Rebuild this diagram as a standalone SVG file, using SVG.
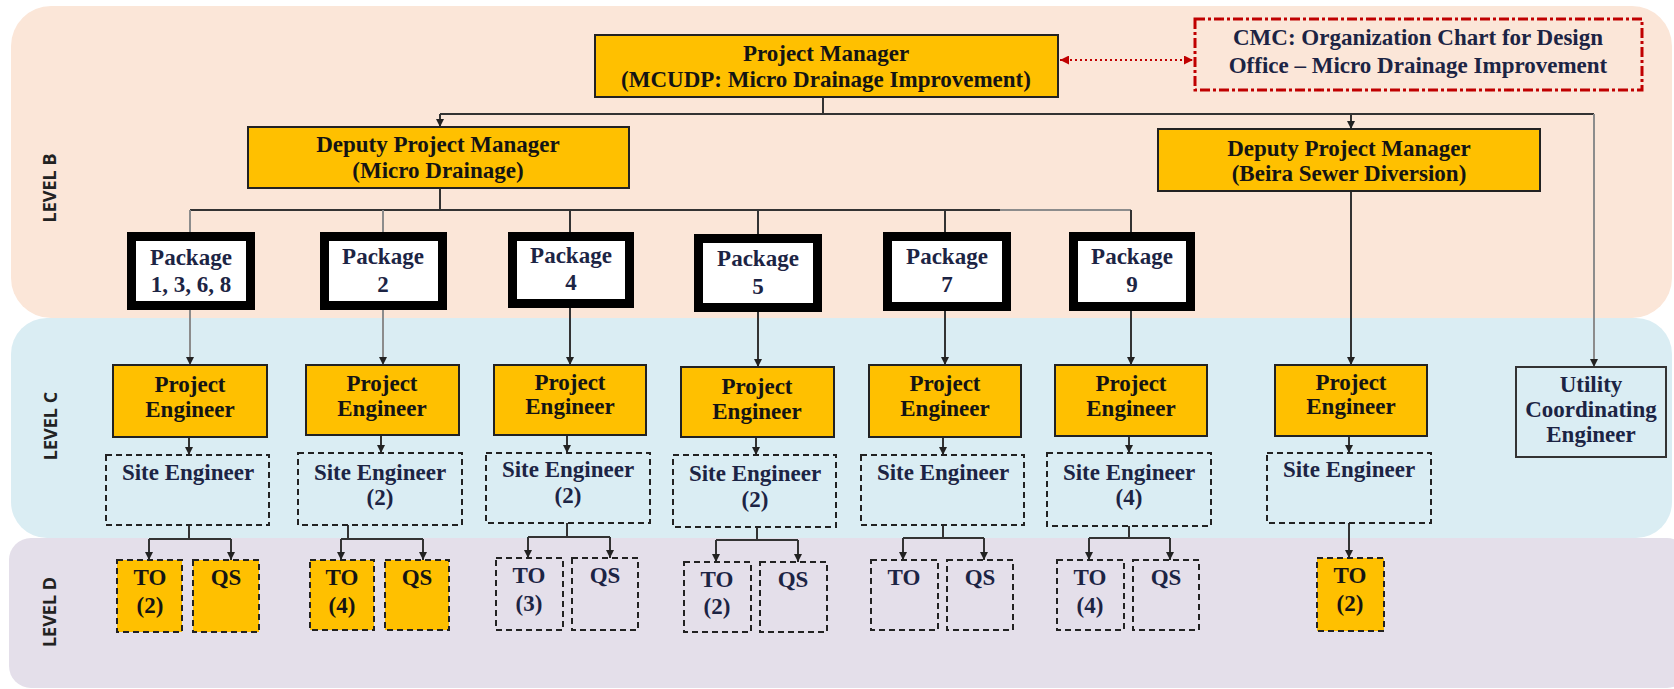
<svg xmlns="http://www.w3.org/2000/svg" width="1674" height="689" viewBox="0 0 1674 689">
<defs>
<style>
.t{font-family:"Liberation Serif","Times New Roman",serif;font-weight:bold;font-size:23px;text-anchor:middle;fill:#141414}
.n{fill:#1c2444}
.lvl{font-family:"Open Sans","Liberation Sans",sans-serif;font-weight:bold;font-size:18px;fill:#222;text-anchor:middle}
.box{fill:#FFC000;stroke:#222;stroke-width:2}
.pkg{fill:#fff;stroke:#000;stroke-width:9}
.dash{fill:none;stroke:#222;stroke-width:2;stroke-dasharray:6 4}
.dasho{fill:#FFC000;stroke:#222;stroke-width:2;stroke-dasharray:6 4}
.c{fill:none;stroke:#333;stroke-width:2}
.g{fill:none;stroke:#8c8c8c;stroke-width:2}
.a{marker-end:url(#ah)}
</style>
<marker id="ah" viewBox="0 0 10 10" refX="10" refY="5" markerWidth="8" markerHeight="8" markerUnits="userSpaceOnUse" orient="auto"><path d="M0,0 L10,5 L0,10 z" fill="#222"/></marker>
<marker id="rh" viewBox="0 0 10 10" refX="10" refY="5" markerWidth="9" markerHeight="9" markerUnits="userSpaceOnUse" orient="auto-start-reverse"><path d="M0,0 L10,5 L0,10 z" fill="#C00000"/></marker>
</defs>

<g id="bands">
<rect x="11" y="6" width="1661" height="312" rx="40" fill="#FBE6D8"/>
<rect x="11" y="318" width="1661" height="220" rx="36" fill="#DAEDF3"/>
<rect x="9" y="538" width="1680" height="150" rx="22" fill="#E4DFEA"/>
<text class="lvl" transform="translate(56,188) rotate(-90)">LEVEL B</text>
<text class="lvl" transform="translate(57,426) rotate(-90)">LEVEL C</text>
<text class="lvl" transform="translate(56,612) rotate(-90)">LEVEL D</text>
</g>

<g id="connectors">
<path class="c" d="M823,97 V114 M440,114 H1594"/>
<path class="c a" d="M440,114 V127"/>
<path class="c a" d="M1351,114 V129"/>
<path class="g a" d="M1594,114 V367"/>
<path class="c" d="M440,188 V210 M190,210 H1000"/>
<path class="g" d="M1000,210 H1131"/>
<path class="g" d="M190,210 V232 M383,210 V232"/>
<path class="c" d="M570,210 V232 M758,210 V234 M945,210 V232 M1131,210 V232"/>
<path class="g a" d="M190,310 V365"/>
<path class="g a" d="M383,310 V365"/>
<path class="c a" d="M570,308 V365"/>
<path class="c a" d="M758,312 V367"/>
<path class="c a" d="M945,311 V365"/>
<path class="c a" d="M1131,311 V365"/>
<path class="c a" d="M1351,191 V365"/>
<path class="c a" d="M189,437 V455"/>
<path class="c a" d="M381,435 V453"/>
<path class="c a" d="M567,435 V453"/>
<path class="c a" d="M756,437 V455"/>
<path class="c a" d="M943,437 V455"/>
<path class="c a" d="M1129,436 V453"/>
<path class="c a" d="M1349,436 V453"/>
<path class="c" d="M189,525 V539 M149,539 H231"/>
<path class="c a" d="M149,539 V560"/><path class="c a" d="M231,539 V560"/>
<path class="c" d="M348,525 V539 M341,539 H423"/>
<path class="c a" d="M341,539 V560"/><path class="c a" d="M423,539 V560"/>
<path class="c" d="M567,523 V537 M528,537 H610"/>
<path class="c a" d="M528,537 V558"/><path class="c a" d="M610,537 V558"/>
<path class="c" d="M757,527 V540 M716,540 H798"/>
<path class="c a" d="M716,540 V562"/><path class="c a" d="M798,540 V562"/>
<path class="c" d="M943,525 V538 M903,538 H984"/>
<path class="c a" d="M903,538 V560"/><path class="c a" d="M984,538 V560"/>
<path class="c" d="M1129,526 V538 M1089,538 H1170"/>
<path class="c a" d="M1089,538 V560"/><path class="c a" d="M1170,538 V560"/>
<path class="c a" d="M1349,523 V558"/>
<path d="M1060,60 H1193" fill="none" stroke="#C00000" stroke-width="2" stroke-dasharray="2 3" marker-start="url(#rh)" marker-end="url(#rh)"/>
</g>

<g id="pm"><rect class="box" x="595" y="35" width="463" height="62"/>
<text class="t" x="826" y="61">Project Manager</text>
<text class="t" x="826" y="87">(MCUDP: Micro Drainage Improvement)</text></g>

<g id="cmc"><rect x="1195" y="19" width="447" height="71" fill="none" stroke="#C00000" stroke-width="3" stroke-dasharray="10 3 3 3"/>
<text class="t n" x="1418" y="45">CMC: Organization Chart for Design</text>
<text class="t n" x="1418" y="73">Office – Micro Drainage Improvement</text></g>

<g id="dpm1"><rect class="box" x="248" y="127" width="381" height="61"/>
<text class="t" x="438" y="152">Deputy Project Manager</text>
<text class="t" x="438" y="178">(Micro Drainage)</text></g>

<g id="dpm2"><rect class="box" x="1158" y="129" width="382" height="62"/>
<text class="t" x="1349" y="156">Deputy Project Manager</text>
<text class="t" x="1349" y="181">(Beira Sewer Diversion)</text></g>

<g id="pkg1"><rect class="pkg" x="131.5" y="236.5" width="119" height="69"/>
<text class="t n" x="191" y="265">Package</text><text class="t n" x="191" y="292">1, 3, 6, 8</text></g>
<g id="pkg2"><rect class="pkg" x="324.5" y="236.5" width="118" height="69"/>
<text class="t n" x="383" y="264">Package</text><text class="t n" x="383" y="292">2</text></g>
<g id="pkg4"><rect class="pkg" x="512.5" y="236.5" width="117" height="67"/>
<text class="t n" x="571" y="263">Package</text><text class="t n" x="571" y="290">4</text></g>
<g id="pkg5"><rect class="pkg" x="698.5" y="238.5" width="119" height="69"/>
<text class="t n" x="758" y="266">Package</text><text class="t n" x="758" y="294">5</text></g>
<g id="pkg7"><rect class="pkg" x="887.5" y="236.5" width="119" height="70"/>
<text class="t n" x="947" y="264">Package</text><text class="t n" x="947" y="292">7</text></g>
<g id="pkg9"><rect class="pkg" x="1073.5" y="236.5" width="117" height="70"/>
<text class="t n" x="1132" y="264">Package</text><text class="t n" x="1132" y="292">9</text></g>

<g id="pe1"><rect class="box" x="113" y="365" width="154" height="72"/><text class="t" x="190" y="392">Project</text><text class="t" x="190" y="417">Engineer</text></g>
<g id="pe2"><rect class="box" x="306" y="365" width="153" height="70"/><text class="t" x="382" y="391">Project</text><text class="t" x="382" y="416">Engineer</text></g>
<g id="pe4"><rect class="box" x="494" y="365" width="152" height="70"/><text class="t" x="570" y="390">Project</text><text class="t" x="570" y="414">Engineer</text></g>
<g id="pe5"><rect class="box" x="681" y="367" width="153" height="70"/><text class="t" x="757" y="394">Project</text><text class="t" x="757" y="419">Engineer</text></g>
<g id="pe7"><rect class="box" x="869" y="365" width="152" height="72"/><text class="t" x="945" y="391">Project</text><text class="t" x="945" y="416">Engineer</text></g>
<g id="pe9"><rect class="box" x="1055" y="365" width="152" height="71"/><text class="t" x="1131" y="391">Project</text><text class="t" x="1131" y="416">Engineer</text></g>
<g id="peb"><rect class="box" x="1275" y="365" width="152" height="71"/><text class="t" x="1351" y="390">Project</text><text class="t" x="1351" y="414">Engineer</text></g>
<g id="uce"><rect x="1516" y="367" width="150" height="90" fill="none" stroke="#333" stroke-width="2"/>
<text class="t n" x="1591" y="392">Utility</text><text class="t n" x="1591" y="417">Coordinating</text><text class="t n" x="1591" y="442">Engineer</text></g>

<g id="se1"><rect class="dash" x="106" y="455" width="163" height="70"/><text class="t n" x="188" y="480">Site Engineer</text></g>
<g id="se2"><rect class="dash" x="298" y="453" width="164" height="72"/><text class="t n" x="380" y="480">Site Engineer</text><text class="t n" x="380" y="505">(2)</text></g>
<g id="se4"><rect class="dash" x="486" y="453" width="164" height="70"/><text class="t n" x="568" y="477">Site Engineer</text><text class="t n" x="568" y="503">(2)</text></g>
<g id="se5"><rect class="dash" x="673" y="455" width="163" height="72"/><text class="t n" x="755" y="481">Site Engineer</text><text class="t n" x="755" y="507">(2)</text></g>
<g id="se7"><rect class="dash" x="861" y="455" width="163" height="70"/><text class="t n" x="943" y="480">Site Engineer</text></g>
<g id="se9"><rect class="dash" x="1047" y="453" width="164" height="73"/><text class="t n" x="1129" y="480">Site Engineer</text><text class="t n" x="1129" y="505">(4)</text></g>
<g id="seb"><rect class="dash" x="1267" y="453" width="164" height="70"/><text class="t n" x="1349" y="477">Site Engineer</text></g>

<g id="to1"><rect class="dasho" x="117" y="560" width="65" height="72"/><text class="t" x="150" y="585">TO</text><text class="t" x="150" y="613">(2)</text></g>
<g id="qs1"><rect class="dasho" x="193" y="560" width="66" height="72"/><text class="t" x="226" y="585">QS</text></g>
<g id="to2"><rect class="dasho" x="310" y="560" width="64" height="70"/><text class="t" x="342" y="585">TO</text><text class="t" x="342" y="613">(4)</text></g>
<g id="qs2"><rect class="dasho" x="385" y="560" width="64" height="70"/><text class="t" x="417" y="585">QS</text></g>
<g id="to4"><rect class="dash" x="496" y="558" width="67" height="72"/><text class="t n" x="529" y="583">TO</text><text class="t n" x="529" y="611">(3)</text></g>
<g id="qs4"><rect class="dash" x="572" y="558" width="66" height="72"/><text class="t n" x="605" y="583">QS</text></g>
<g id="to5"><rect class="dash" x="684" y="562" width="67" height="70"/><text class="t n" x="717" y="587">TO</text><text class="t n" x="717" y="614">(2)</text></g>
<g id="qs5"><rect class="dash" x="760" y="562" width="67" height="70"/><text class="t n" x="793" y="587">QS</text></g>
<g id="to7"><rect class="dash" x="871" y="560" width="67" height="70"/><text class="t n" x="904" y="585">TO</text></g>
<g id="qs7"><rect class="dash" x="947" y="560" width="66" height="70"/><text class="t n" x="980" y="585">QS</text></g>
<g id="to9"><rect class="dash" x="1057" y="560" width="67" height="70"/><text class="t n" x="1090" y="585">TO</text><text class="t n" x="1090" y="613">(4)</text></g>
<g id="qs9"><rect class="dash" x="1133" y="560" width="66" height="70"/><text class="t n" x="1166" y="585">QS</text></g>
<g id="tob"><rect class="dasho" x="1317" y="558" width="67" height="73"/><text class="t" x="1350" y="583">TO</text><text class="t" x="1350" y="611">(2)</text></g>
</svg>
